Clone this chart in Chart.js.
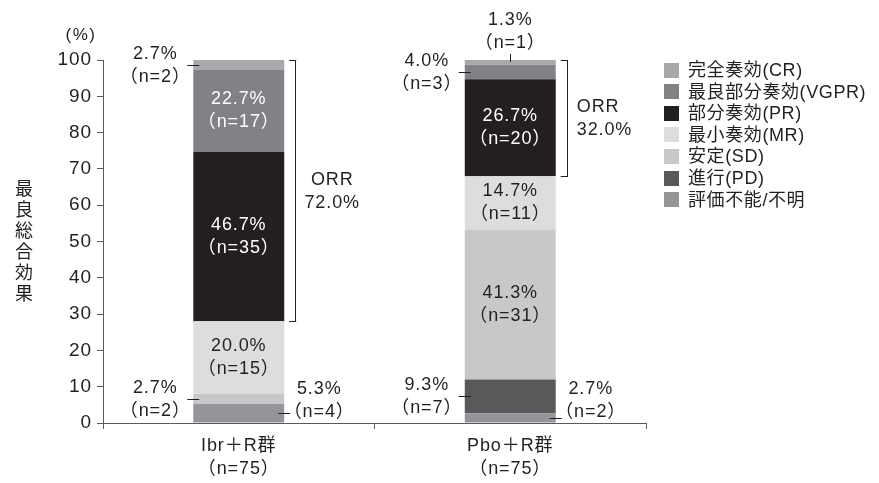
<!DOCTYPE html>
<html>
<head>
<meta charset="utf-8">
<script src="https://cdn.jsdelivr.net/npm/chart.js@4/dist/chart.umd.min.js"></script>
<style>
  html, body { margin: 0; padding: 0; background: #fff; }
  canvas { display: block; }
</style>
</head>
<body>
<canvas id="c" width="879" height="483"></canvas>
<script>
// Best overall response by treatment arm (stacked, bottom to top)
const categories = ['Ibr＋R群', 'Pbo＋R群'];
const groupSizes = ['（n=75）', '（n=75）'];
const responseTypes = ['評価不能/不明', '進行(PD)', '安定(SD)', '最小奏効(MR)', '部分奏効(PR)', '最良部分奏効(VGPR)', '完全奏効(CR)'];
const ibrPercent = [5.3, 0, 2.7, 20.0, 46.7, 22.7, 2.7];
const ibrCount   = [4, 0, 2, 15, 35, 17, 2];
const pboPercent = [2.7, 9.3, 41.3, 14.7, 26.7, 4.0, 1.3];
const pboCount   = [2, 7, 31, 11, 20, 3, 1];
const orrPercent = [72.0, 32.0];
const yTickValues = [0, 10, 20, 30, 40, 50, 60, 70, 80, 90, 100];

// Styling
const segmentColors = ['#939598', '#58595b', '#c7c8ca', '#dcddde', '#231f20', '#808285', '#a7a9ac'];
const insideTextColors = ['#231f20', '#ffffff', '#231f20', '#231f20', '#ffffff', '#ffffff', '#231f20'];
const ibrPlacement = ['right', 'none', 'left', 'in', 'in', 'in', 'left'];
const pboPlacement = ['right', 'left', 'in', 'in', 'in', 'left', 'top'];
const orrAlign = ['center', 'left'];

const TEXT = '#231f20';
const AXIS = '#58595b';
const FONT = "'Liberation Sans', 'Noto Sans CJK JP', sans-serif";
const SPACING = '0.9px';

Chart.defaults.color = TEXT;
Chart.defaults.font.family = FONT;

const fmtPct = v => v.toFixed(1) + '%';
const fmtN = n => '（n=' + n + '）';

// slightly tracked type for all chart text
const tracking = {
  id: 'tracking',
  beforeDraw(chart) { chart.ctx.letterSpacing = SPACING; }
};

const annotate = {
  id: 'annotate',
  afterDraw(chart) {
    const ctx = chart.ctx;
    const ys = chart.scales.y;
    ctx.save();
    ctx.letterSpacing = SPACING;
    ctx.lineWidth = 1;
    ctx.strokeStyle = TEXT;
    ctx.textBaseline = 'middle';
    ctx.font = '18px ' + FONT;

    const hline = (x1, x2, yy) => {
      const py = Math.round(yy) + 0.5;
      ctx.beginPath(); ctx.moveTo(x1, py); ctx.lineTo(x2, py); ctx.stroke();
    };
    const vline = (xx, y1, y2) => {
      const px = Math.round(xx) + 0.5;
      ctx.beginPath(); ctx.moveTo(px, y1); ctx.lineTo(px, y2); ctx.stroke();
    };
    const two = (a, b, x, y1, y2, color, align) => {
      ctx.fillStyle = color;
      ctx.textAlign = align || 'center';
      ctx.fillText(a, x, y1);
      ctx.fillText(b, x, y2);
    };

    const groups = [
      { pct: ibrPercent, n: ibrCount, place: ibrPlacement },
      { pct: pboPercent, n: pboCount, place: pboPlacement }
    ];

    groups.forEach((g, j) => {
      let lastRight = 0;
      responseTypes.forEach((_, i) => {
        const bar = chart.getDatasetMeta(i).data[j];
        const p = bar.getProps(['x', 'y', 'base', 'width'], true);
        const left = p.x - p.width / 2, right = p.x + p.width / 2;
        const mid = (p.y + p.base) / 2;
        lastRight = right;
        const a = fmtPct(g.pct[i]), b = fmtN(g.n[i]);
        switch (g.place[i]) {
          case 'in':
            two(a, b, p.x, mid - 11.5, mid + 11.5, insideTextColors[i]);
            break;
          case 'left':
            hline(left - 6, left + 6, mid);
            two(a, b, left - 38, mid - 11, mid + 12, TEXT);
            break;
          case 'right': {
            hline(right - 6, right + 6, mid);
            const l2 = p.base - 10;
            two(a, b, right + 35, l2 - 23, l2, TEXT);
            break;
          }
          case 'top':
            vline(p.x, p.y - 6, p.y + 2);
            two(a, b, p.x, p.y - 40, p.y - 17, TEXT);
            break;
        }
      });

      // ORR bracket
      const bx = lastRight + 11;
      const yTop = ys.getPixelForValue(100);
      const yBot = ys.getPixelForValue(100 - orrPercent[j]);
      vline(bx, Math.round(yTop), Math.round(yBot) + 1);
      hline(bx - 6, bx + 1, yTop);
      hline(bx - 6, bx + 1, yBot);
      const my = (yTop + yBot) / 2;
      if (orrAlign[j] === 'center') {
        two('ORR', fmtPct(orrPercent[j]), bx + 37, my - 11, my + 12, TEXT, 'center');
      } else {
        two('ORR', fmtPct(orrPercent[j]), bx + 10, my - 11, my + 12, TEXT, 'left');
      }
    });

    // Legend (top entry is the top segment)
    ctx.font = '18px ' + FONT;
    ctx.letterSpacing = '0.6px';
    ctx.textAlign = 'left';
    for (let k = 0; k < responseTypes.length; k++) {
      const i = responseTypes.length - 1 - k;
      const cy = 70 + k * 21.6;
      ctx.fillStyle = segmentColors[i];
      ctx.fillRect(664, Math.round(cy - 7.5), 15, 15);
      ctx.fillStyle = TEXT;
      ctx.fillText(responseTypes[i], 688, cy + 1);
    }

    // Axis unit and vertical title
    ctx.fillStyle = TEXT;
    ctx.letterSpacing = '1.5px';
    ctx.font = '17px ' + FONT;
    ctx.textAlign = 'center';
    ctx.fillText('(%)', 81, 35);
    ctx.letterSpacing = '0px';
    ctx.font = '18px ' + FONT;
    const title = '最良総合効果';
    for (let c = 0; c < title.length; c++) {
      ctx.fillText(title[c], 24, 190 + c * 21);
    }
    ctx.restore();
  }
};

new Chart(document.getElementById('c'), {
  type: 'bar',
  data: {
    labels: categories.map((c, i) => [c, groupSizes[i]]),
    datasets: responseTypes.map((name, i) => ({
      label: name,
      data: [ibrPercent[i], pboPercent[i]],
      backgroundColor: segmentColors[i],
      borderWidth: 0,
      categoryPercentage: 1,
      barPercentage: 0.335
    }))
  },
  options: {
    responsive: false,
    animation: false,
    devicePixelRatio: 1,
    layout: { padding: { top: 60, right: 233, bottom: 0, left: 0 } },
    plugins: { legend: { display: false }, tooltip: { enabled: false } },
    scales: {
      x: {
        stacked: true,
        grid: { drawOnChartArea: false, drawTicks: true, tickLength: 6, color: AXIS, offset: true },
        border: { color: AXIS, width: 1 },
        ticks: { font: { size: 18, lineHeight: 1.25 }, color: TEXT, padding: 6 },
        afterFit: s => { s.height = 60; }
      },
      y: {
        stacked: true,
        min: 0,
        max: 100,
        afterBuildTicks: s => { s.ticks = yTickValues.map(v => ({ value: v })); },
        grid: { drawOnChartArea: false, drawTicks: true, tickLength: 6, color: AXIS },
        border: { color: AXIS, width: 1 },
        ticks: { font: { size: 19 }, color: TEXT, padding: 5 },
        afterFit: s => { s.width = 103; }
      }
    }
  },
  plugins: [tracking, annotate]
});
</script>
</body>
</html>
